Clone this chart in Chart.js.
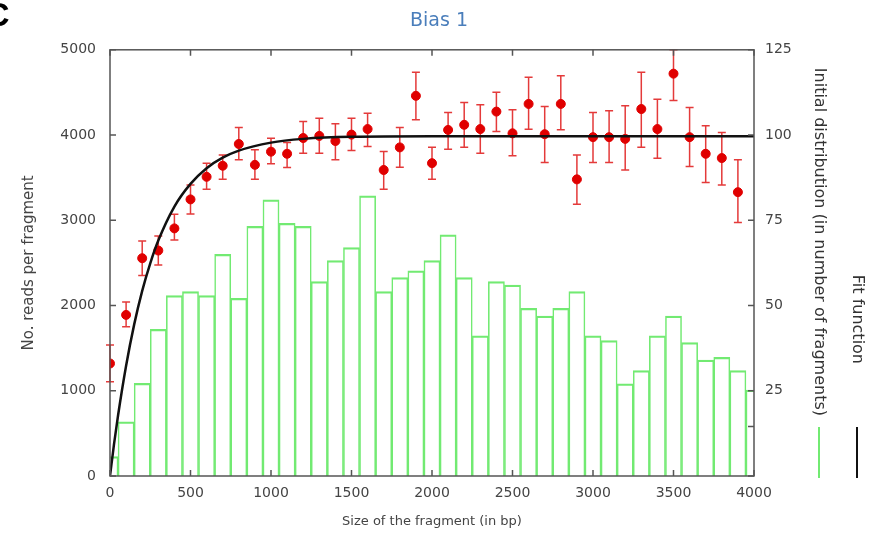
<!DOCTYPE html>
<html><head><meta charset="utf-8">
<script src="https://cdn.jsdelivr.net/npm/chart.js@4.4.1/dist/chart.umd.min.js"></script>
<style>html,body{margin:0;padding:0;background:#fff;}#wrap{width:878px;height:536px;position:relative;}</style>
</head><body><div id="wrap"><canvas id="c" width="878" height="536"></canvas></div>
<script>
// ---- data ----
const chartTitle = 'Bias 1';
const xTicks = [0, 500, 1000, 1500, 2000, 2500, 3000, 3500, 4000];
const yTicks = [0, 1000, 2000, 3000, 4000, 5000];
const y2Ticks = [0, 14.5, 25, 50, 75, 100, 125];
const y2Labeled = [25, 50, 75, 100, 125];

// histogram (right axis): bin centres (bp) and counts
const binCenters = [0,100,200,300,400,500,600,700,800,900,1000,1100,1200,1300,1400,1500,1600,1700,1800,1900,2000,2100,2200,2300,2400,2500,2600,2700,2800,2900,3000,3100,3200,3300,3400,3500,3600,3700,3800,3900,4000];
const fragCounts = [5.7,15.9,27.2,43.0,52.9,54.1,52.9,65.0,52.1,73.2,81.0,74.1,73.2,57.0,63.2,67.0,82.2,54.1,58.2,60.2,63.2,70.7,58.2,41.1,57.0,56.0,49.2,46.9,49.2,54.1,41.1,39.7,27.0,30.9,41.1,46.9,39.1,34.0,34.8,30.9,25.2];

// reads per fragment (left axis) with error bars
const sizes = [0,100,200,300,400,500,600,700,800,900,1000,1100,1200,1300,1400,1500,1600,1700,1800,1900,2000,2100,2200,2300,2400,2500,2600,2700,2800,2900,3000,3100,3200,3300,3400,3500,3600,3700,3800,3900];
const reads = [1320,1890,2555,2645,2905,3245,3510,3640,3895,3650,3805,3780,3965,3990,3930,4005,4070,3590,3855,4460,3670,4060,4120,4070,4275,4020,4365,4010,4365,3480,3975,3975,3955,4305,4070,4720,3975,3780,3730,3330];
const readsHigh = [1538,2040,2758,2817,3072,3415,3670,3767,4088,3826,3963,3912,4158,4198,4131,4198,4257,3806,4088,4738,3857,4264,4382,4354,4503,4296,4679,4335,4695,3767,4264,4284,4343,4738,4421,5000,4323,4108,4029,3709];
const readsLow = [1107,1752,2351,2476,2770,3075,3365,3482,3709,3482,3662,3619,3787,3787,3709,3818,3865,3365,3623,4178,3482,3834,3857,3787,4041,3756,4069,3677,4061,3189,3677,3677,3591,3857,3729,4405,3630,3443,3415,2973];

// fit function (left axis)
const fitX = [0,25,50,100,150,200,250,300,400,500,600,700,800,1000,1200,1500,2000,3000,4000];
const fitY = [0,373,710,1294,1776,2172,2495,2762,3161,3427,3611,3734,3817,3911,3955,3979,3985,3985,3985];

const histLabel = 'Initial distribution (in number of fragments)';
const fitLabel = 'Fit function';
const xTitle = 'Size of the fragment (in bp)';
const yTitle = 'No. reads per fragment';

// ---- styles ----
const FONT = 'DejaVu Sans';
const GREEN = '#72ea72';
const RED = '#e00000';
const FRAME = '#555';

const extras = {
  id: 'extras',
  beforeDatasetDraw(chart, args) {
    if (args.index !== 1) return;
    const ctx = chart.ctx, xs = chart.scales.x, ys = chart.scales.y;
    ctx.save();
    ctx.strokeStyle = '#e43a3a';
    ctx.lineWidth = 1.5;
    for (let i = 0; i < sizes.length; i++) {
      const px = xs.getPixelForValue(sizes[i]);
      const yh = ys.getPixelForValue(readsHigh[i]);
      const yl = ys.getPixelForValue(readsLow[i]);
      ctx.beginPath();
      ctx.moveTo(px, yh); ctx.lineTo(px, yl);
      ctx.moveTo(px - 4, yh); ctx.lineTo(px + 4, yh);
      ctx.moveTo(px - 4, yl); ctx.lineTo(px + 4, yl);
      ctx.stroke();
    }
    ctx.restore();
  },
  afterDraw(chart) {
    const ctx = chart.ctx, a = chart.chartArea;
    const xs = chart.scales.x, ys = chart.scales.y, y2 = chart.scales.y2;
    ctx.save();
    ctx.strokeStyle = FRAME;
    ctx.lineWidth = 1.5;
    ctx.strokeRect(a.left, a.top, a.right - a.left, a.bottom - a.top);
    ctx.beginPath();
    xs.ticks.forEach(t => {
      const p = xs.getPixelForValue(t.value);
      ctx.moveTo(p, a.bottom); ctx.lineTo(p, a.bottom - 6);
      ctx.moveTo(p, a.top); ctx.lineTo(p, a.top + 6);
    });
    ys.ticks.forEach(t => {
      const p = ys.getPixelForValue(t.value);
      ctx.moveTo(a.left, p); ctx.lineTo(a.left + 6, p);
    });
    y2.ticks.forEach(t => {
      const p = y2.getPixelForValue(t.value);
      ctx.moveTo(a.right, p); ctx.lineTo(a.right - 6, p);
    });
    ctx.stroke();
    const ds = chart.data.datasets;
    const items = [
      {label: ds[0].label, color: GREEN, x: 819, end: 416},
      {label: ds[2].label, color: '#111', x: 857, end: 364}
    ];
    items.forEach(it => {
      ctx.save();
      ctx.translate(it.x, it.end);
      ctx.rotate(Math.PI / 2);
      ctx.font = '16px "' + FONT + '"';
      ctx.fillStyle = '#333';
      ctx.textAlign = 'right';
      ctx.textBaseline = 'middle';
      ctx.fillText(it.label, 0, 0);
      ctx.restore();
      ctx.strokeStyle = it.color;
      ctx.lineWidth = 2;
      ctx.beginPath();
      ctx.moveTo(it.x, 427); ctx.lineTo(it.x, 478);
      ctx.stroke();
    });
    ctx.fillStyle = '#000';
    ctx.font = 'bold 34px "Liberation Sans"';
    ctx.textAlign = 'left';
    ctx.textBaseline = 'alphabetic';
    ctx.fillText('C', -15, 26);
    ctx.restore();
  }
};

new Chart(document.getElementById('c'), {
  type: 'scatter',
  data: {
    datasets: [
      {
        type: 'bar', label: histLabel,
        data: binCenters.map((x, i) => ({x: x, y: fragCounts[i]})),
        xAxisID: 'x', yAxisID: 'y2',
        backgroundColor: 'rgba(255,255,255,0)', borderColor: GREEN,
        borderWidth: {top: 1.6, left: 0.9, right: 0.9, bottom: 0},
        barPercentage: 1, categoryPercentage: 1, order: 3
      },
      {
        type: 'scatter', label: 'Reads',
        data: sizes.map((x, i) => ({x: x, y: reads[i]})),
        xAxisID: 'x', yAxisID: 'y',
        backgroundColor: RED, borderColor: RED, pointRadius: 4.5, order: 2
      },
      {
        type: 'line', label: fitLabel,
        data: fitX.map((x, i) => ({x: x, y: fitY[i]})),
        xAxisID: 'x', yAxisID: 'y',
        borderColor: '#111', borderWidth: 2.5, pointRadius: 0, fill: false,
        cubicInterpolationMode: 'monotone', order: 1
      }
    ]
  },
  options: {
    responsive: false, animation: false, devicePixelRatio: 1,
    layout: {padding: 0},
    plugins: {
      legend: {display: false},
      tooltip: {enabled: false},
      title: {display: true, text: chartTitle, color: '#4a7ebb',
        font: {family: FONT, size: 19, weight: 'normal'}, padding: {top: 10, bottom: 17}}
    },
    scales: {
      x: {
        type: 'linear', position: 'bottom', min: 0, max: 4000, offset: false,
        afterBuildTicks: s => { s.ticks = xTicks.map(v => ({value: v})); },
        afterFit: s => { s.height = 60; },
        ticks: {color: '#444', font: {family: FONT, size: 14}, padding: 9, maxRotation: 0, autoSkip: false,
          callback: v => String(v)},
        grid: {display: false, drawTicks: false, offset: false},
        border: {display: false},
        title: {display: true, text: xTitle, color: '#444', font: {family: FONT, size: 13}, padding: {top: 0, bottom: 7}}
      },
      y: {
        type: 'linear', position: 'left', min: 0, max: 5000,
        afterBuildTicks: s => { s.ticks = yTicks.map(v => ({value: v})); },
        afterFit: s => { s.width = 110; },
        ticks: {color: '#444', font: {family: FONT, size: 14}, padding: 14, callback: v => String(v)},
        grid: {display: false, drawTicks: false},
        border: {display: false},
        title: {display: true, text: yTitle, color: '#444', font: {family: FONT, size: 15}, padding: {top: 20, bottom: 0}}
      },
      y2: {
        type: 'linear', position: 'right', min: 0, max: 125,
        afterBuildTicks: s => { s.ticks = y2Ticks.map(v => ({value: v})); },
        afterFit: s => { s.width = 124; },
        ticks: {color: '#444', font: {family: FONT, size: 14}, padding: 11,
          callback: v => (y2Labeled.includes(v) ? String(v) : '')},
        grid: {display: false, drawTicks: false},
        border: {display: false}
      }
    }
  },
  plugins: [extras]
});
</script>
</body></html>
